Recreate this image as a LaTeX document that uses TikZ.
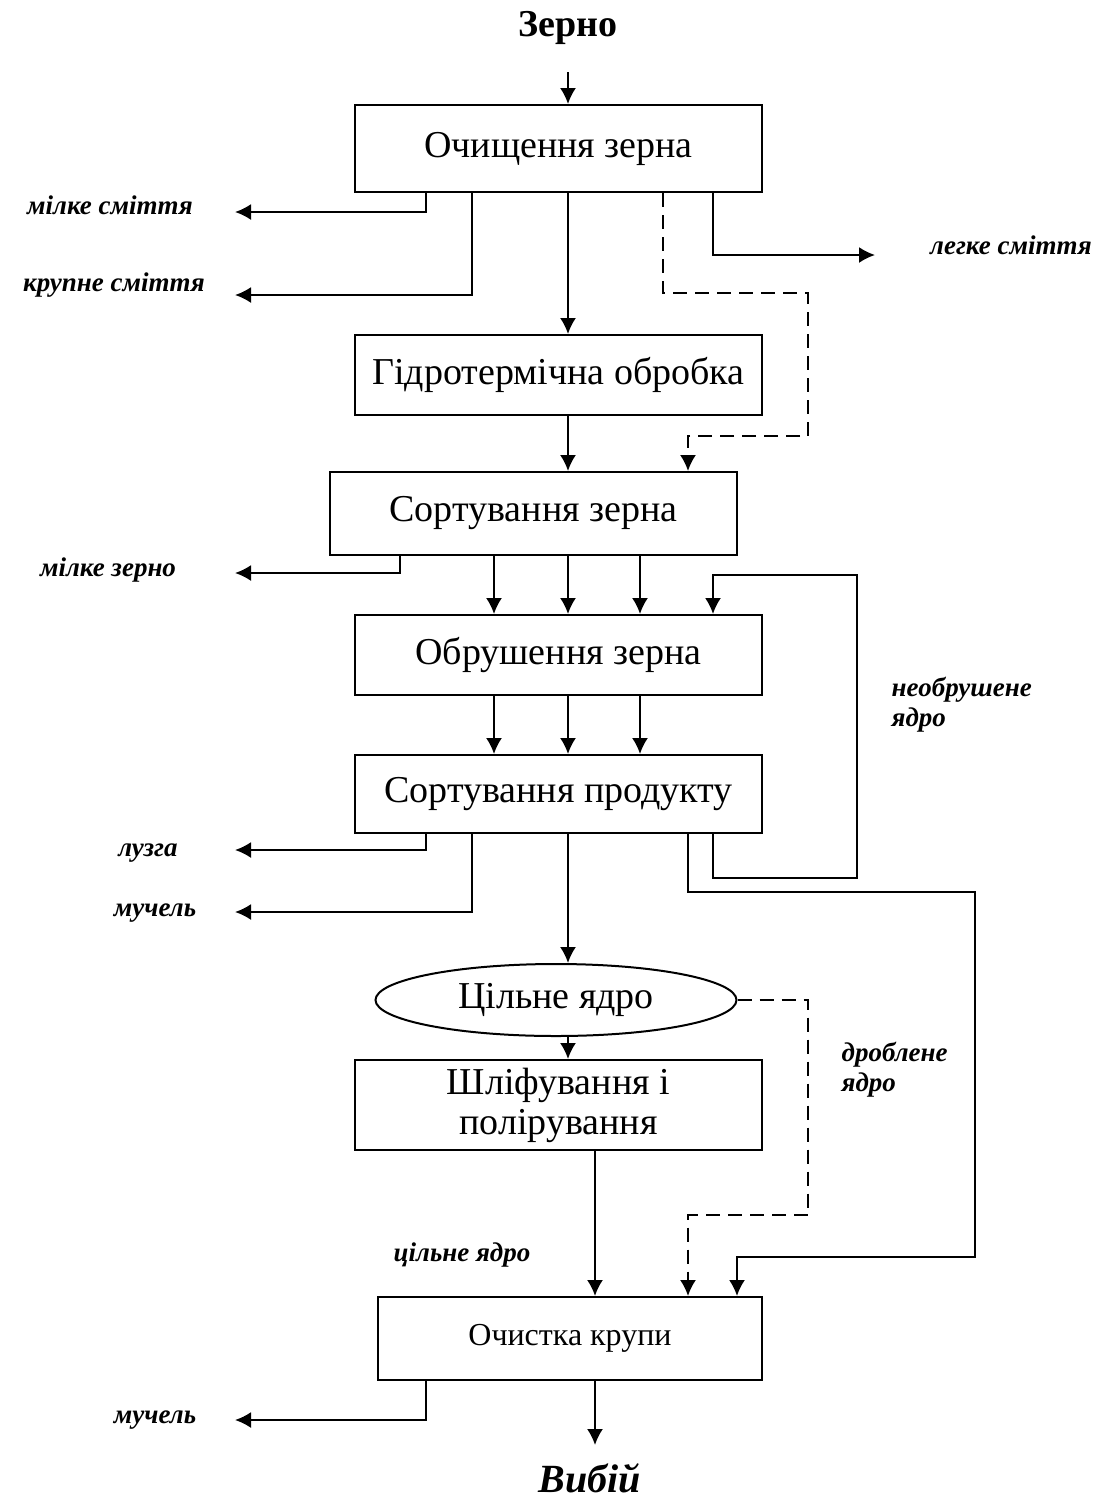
\documentclass[tikz,border=0pt]{standalone}
\usepackage{fontspec}
\setmainfont{Liberation Serif}
\usetikzlibrary{arrows.meta,shapes.geometric}

\begin{document}
\begin{tikzpicture}[x=0.5pt,y=-0.5pt,line width=1pt,
stage/.style={draw,rectangle,minimum width=203.5pt,inner sep=0pt,align=center,font=\fontsize{19}{20}\selectfont},
side/.style={font=\fontsize{13.5}{15}\selectfont\bfseries\itshape,align=left},
flow/.style={-{Latex[length=8pt,width=8pt]}},
back/.style={flow,dash pattern=on 7pt off 4pt}]
\useasboundingbox (0,0) rectangle (1097,1501);

%stages
\node[font=\fontsize{19}{22}\selectfont\bfseries] (grain) at (568,28) {Зерно};
\node[stage,minimum height=43.5pt] (clean) at (558.5,148.5) {Очищення зерна};
\node[stage,minimum height=40pt] (hydro) at (558.5,375) {Гідротермічна обробка};
\node[stage,minimum height=41.5pt] (sortg) at (533.5,513.5) {Сортування зерна};
\node[stage,minimum height=40pt] (hull) at (558.5,655) {Обрушення зерна};
\node[stage,minimum height=39pt] (sortp) at (558.5,794) {Сортування продукту};
\node[draw,ellipse,minimum width=180.5pt,minimum height=36pt,inner sep=0pt,
      font=\fontsize{19}{22}\selectfont] (kernel) at (556,1000) {Цільне ядро};
\node[stage,minimum height=45pt] (polish) at (558.5,1105) {Шліфування і\\полірування};
\node[stage,minimum width=192pt,minimum height=41.5pt,font=\fontsize{16}{20}\selectfont] (groats) at (570,1338.5) {Очистка крупи};
\node[font=\fontsize{20}{24}\selectfont\bfseries\itshape] (yield) at (590,1478) {Вибій};

% captions
\node[side] (l1) at (110,205) {мілке сміття};
\node[side] (l2) at (114,285) {крупне сміття};
\node[side] (l3) at (1011,245) {легке сміття};
\node[side] (l4) at (108,570) {мілке зерно};
\node[side,anchor=west] (l5) at (884,705) {необрушене\\ядро};
\node[side] (l6) at (148,853) {лузга};
\node[side] (l7) at (155,913) {мучель};
\node[side,anchor=west] (l8) at (834,1070) {дроблене\\ядро};
\node[side] (l9) at (462,1255) {цільне ядро};
\node[side] (l10) at (155,1420) {мучель};

% free ends
\coordinate (w1) at (235,212);
\coordinate (w2) at (235,295);
\coordinate (e1) at (875,255);
\coordinate (w3) at (235,573);
\coordinate (w4) at (235,850);
\coordinate (w5) at (235,912);
\coordinate (w6) at (235,1420);

% main line
\draw[flow] (568,72) -- (clean.north -| 568,0);
\draw[flow] (clean.south -| 568,0) -- (hydro.north -| 568,0);
\draw[flow] (hydro.south -| 568,0) -- (sortg.north -| 568,0);
\foreach \X in {494,568,640}
{
	\draw[flow] (sortg.south -| \X,0) -- (hull.north -| \X,0);
	\draw[flow] (hull.south -| \X,0) -- (sortp.north -| \X,0);
}
\draw[flow] (sortp.south -| 568,0) -- (kernel.north -| 568,0);
\draw[flow] (kernel.south -| 568,0) -- (polish.north -| 568,0);
\draw[flow] (polish.south -| 595,0) -- (groats.north -| 595,0);
\draw[flow] (groats.south -| 595,0) -- (595,1445);

% waste
\draw[flow] (clean.south -| 426,0) |- (w1);
\draw[flow] (clean.south -| 472,0) |- (w2);
\draw[flow] (clean.south -| 713,0) |- (e1);
\draw[flow] (sortg.south -| 400,0) |- (w3);
\draw[flow] (sortp.south -| 426,0) |- (w4);
\draw[flow] (sortp.south -| 472,0) |- (w5);
\draw[flow] (groats.south -| 426,0) |- (w6);

% returns
\draw[back] (clean.south -| 663,0) -- (663,293) -- (808,293) -- (808,436)
	-- (688,436) -- (sortg.north -| 688,0);
\draw[flow] (sortp.south -| 713,0) -- (713,878) -- (857,878) -- (857,575)
	-- (713,575) -- (hull.north -| 713,0);
\draw[flow] (sortp.south -| 688,0) -- (688,892) -- (975,892) -- (975,1257)
	-- (737,1257) -- (groats.north -| 737,0);
\draw[back] (kernel.east) -- (808,1000) -- (808,1215) -- (688,1215)
	-- (groats.north -| 688,0);
\end{tikzpicture}
\end{document}
